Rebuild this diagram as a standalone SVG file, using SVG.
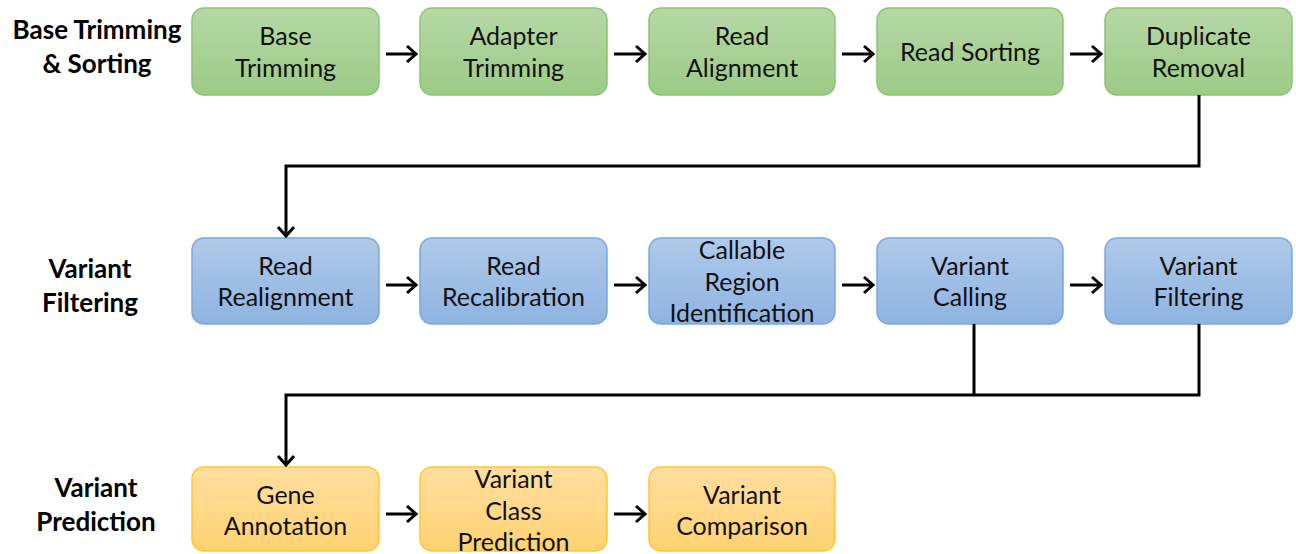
<svg xmlns="http://www.w3.org/2000/svg" width="1296" height="554" viewBox="0 0 1296 554">
<defs>
<linearGradient id="gG" x1="0" y1="0" x2="0" y2="1"><stop offset="0" stop-color="#b6d8a6"/><stop offset="1" stop-color="#9ccb87"/></linearGradient>
<linearGradient id="gB" x1="0" y1="0" x2="0" y2="1"><stop offset="0" stop-color="#afcaea"/><stop offset="1" stop-color="#8fb3e1"/></linearGradient>
<linearGradient id="gO" x1="0" y1="0" x2="0" y2="1"><stop offset="0" stop-color="#ffdf9f"/><stop offset="1" stop-color="#ffd272"/></linearGradient>
<marker id="arr" markerWidth="14" markerHeight="20" refX="12" refY="10" orient="auto" markerUnits="userSpaceOnUse">
<path d="M3,2 L12,10 L3,18" fill="none" stroke="#000" stroke-width="3"/>
</marker>
</defs>
<style>
.g{fill:url(#gG);stroke:#8dc475;stroke-width:1.5}
.b{fill:url(#gB);stroke:#7aa8de;stroke-width:1.5}
.o{fill:url(#gO);stroke:#ffc62e;stroke-width:1.5}
.t{font-family:Lato,"Liberation Sans",sans-serif;font-size:25px;fill:#111;text-anchor:middle}
.h{font-family:Lato,"Liberation Sans",sans-serif;font-size:26px;font-weight:bold;fill:#000;text-anchor:middle}
.c{fill:none;stroke:#000;stroke-width:3}
</style>
<g id="labels">
<text class="h" x="97" y="39">Base Trimming</text>
<text class="h" x="97" y="73">&amp; Sorting</text>
<text class="h" x="90" y="278">Variant</text>
<text class="h" x="90" y="312">Filtering</text>
<text class="h" x="96" y="497">Variant</text>
<text class="h" x="96" y="531">Prediction</text>
</g>
<g id="n1"><rect class="g" x="192" y="8" width="187" height="87" rx="12"/><text class="t" x="285.5" y="45">Base</text><text class="t" x="285.5" y="77">Trimming</text></g>
<g id="n2"><rect class="g" x="420" y="8" width="187" height="87" rx="12"/><text class="t" x="513.5" y="45">Adapter</text><text class="t" x="513.5" y="77">Trimming</text></g>
<g id="n3"><rect class="g" x="649" y="8" width="186" height="87" rx="12"/><text class="t" x="742" y="45">Read</text><text class="t" x="742" y="77">Alignment</text></g>
<g id="n4"><rect class="g" x="877" y="8" width="186" height="87" rx="12"/><text class="t" x="970" y="61">Read Sorting</text></g>
<g id="n5"><rect class="g" x="1105" y="8" width="187" height="87" rx="12"/><text class="t" x="1198.5" y="45">Duplicate</text><text class="t" x="1198.5" y="77">Removal</text></g>
<g id="n6"><rect class="b" x="192" y="238" width="187" height="86" rx="12"/><text class="t" x="285.5" y="275">Read</text><text class="t" x="285.5" y="306">Realignment</text></g>
<g id="n7"><rect class="b" x="420" y="238" width="187" height="86" rx="12"/><text class="t" x="513.5" y="275">Read</text><text class="t" x="513.5" y="306">Recalibration</text></g>
<g id="n8"><rect class="b" x="649" y="238" width="186" height="86" rx="12"/><text class="t" x="742" y="259">Callable</text><text class="t" x="742" y="291">Region</text><text class="t" x="742" y="322">Identification</text></g>
<g id="n9"><rect class="b" x="877" y="238" width="186" height="86" rx="12"/><text class="t" x="970" y="275">Variant</text><text class="t" x="970" y="306">Calling</text></g>
<g id="n10"><rect class="b" x="1105" y="238" width="187" height="86" rx="12"/><text class="t" x="1198.5" y="275">Variant</text><text class="t" x="1198.5" y="306">Filtering</text></g>
<g id="n11"><rect class="o" x="192" y="467" width="187" height="84" rx="12"/><text class="t" x="285.5" y="504">Gene</text><text class="t" x="285.5" y="535">Annotation</text></g>
<g id="n12"><rect class="o" x="420" y="467" width="187" height="84" rx="12"/><text class="t" x="513.5" y="488">Variant</text><text class="t" x="513.5" y="520">Class</text><text class="t" x="513.5" y="551">Prediction</text></g>
<g id="n13"><rect class="o" x="649" y="467" width="186" height="84" rx="12"/><text class="t" x="742" y="504">Variant</text><text class="t" x="742" y="535">Comparison</text></g>
<g id="connectors">
<line class="c" x1="386" y1="54" x2="416" y2="54" marker-end="url(#arr)"/>
<line class="c" x1="614" y1="54" x2="645" y2="54" marker-end="url(#arr)"/>
<line class="c" x1="842" y1="54" x2="873" y2="54" marker-end="url(#arr)"/>
<line class="c" x1="1070" y1="54" x2="1101" y2="54" marker-end="url(#arr)"/>
<polyline class="c" points="1199,95 1199,166 286,166 286,236" marker-end="url(#arr)"/>
<line class="c" x1="386" y1="285" x2="416" y2="285" marker-end="url(#arr)"/>
<line class="c" x1="614" y1="285" x2="645" y2="285" marker-end="url(#arr)"/>
<line class="c" x1="842" y1="285" x2="873" y2="285" marker-end="url(#arr)"/>
<line class="c" x1="1070" y1="285" x2="1101" y2="285" marker-end="url(#arr)"/>
<polyline class="c" points="974,324 974,395"/>
<polyline class="c" points="1199,324 1199,395 286,395 286,465" marker-end="url(#arr)"/>
<line class="c" x1="386" y1="514" x2="416" y2="514" marker-end="url(#arr)"/>
<line class="c" x1="614" y1="514" x2="645" y2="514" marker-end="url(#arr)"/>
</g>
</svg>
